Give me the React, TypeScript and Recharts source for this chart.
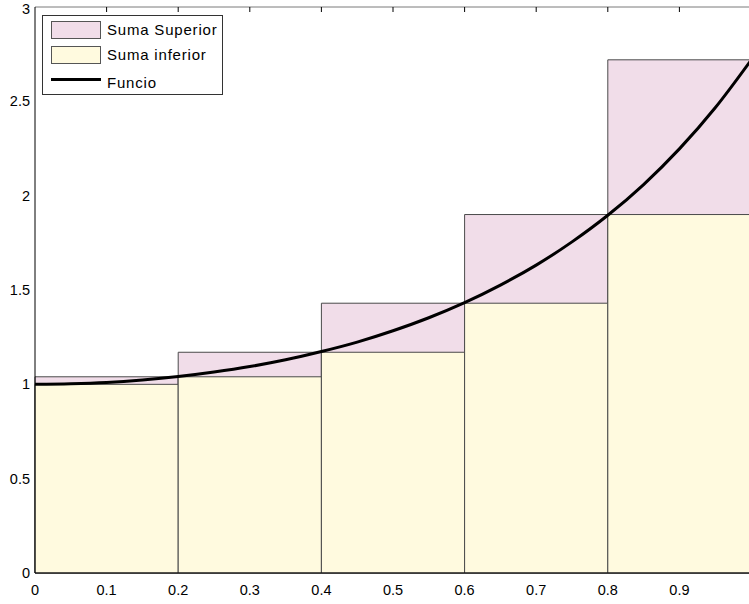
import {
  ComposedChart,
  Line,
  XAxis,
  YAxis,
  ReferenceArea,
} from "recharts";

// partition edges and the two Riemann sums
const edges = [0, 0.2, 0.4, 0.6, 0.8, 1.0];
const upperSum = [1.04, 1.17, 1.43, 1.9, 2.72];
const lowerSum = [1.0, 1.04, 1.17, 1.43, 1.9];

// sampled points of the function curve
const curveX = [0, 0.05, 0.1, 0.15, 0.2, 0.25, 0.3, 0.35, 0.4, 0.45, 0.5, 0.55, 0.6, 0.65, 0.7, 0.75, 0.8, 0.85, 0.9, 0.95, 1.0];
const curveY = [1.0, 1.003, 1.01, 1.023, 1.041, 1.065, 1.094, 1.13, 1.174, 1.224, 1.284, 1.353, 1.433, 1.526, 1.632, 1.755, 1.896, 2.059, 2.248, 2.466, 2.718];

const xTicks = [0, 0.1, 0.2, 0.3, 0.4, 0.5, 0.6, 0.7, 0.8, 0.9];
const topTicks = [0.1, 0.2, 0.3, 0.4, 0.5, 0.6, 0.7, 0.8, 0.9];
const yTicks = [0, 0.5, 1, 1.5, 2, 2.5, 3];
const yInnerTicks = [1.5, 2, 2.5];

const PINK = "#f1dde9";
const YELLOW = "#fffadf";
const EDGE = "#4a4a4a";
const FONT = "'Liberation Sans', Arial, sans-serif";

const legendItems = [
  { label: "Suma Superior", kind: "rect", color: PINK },
  { label: "Suma inferior", kind: "rect", color: YELLOW },
  { label: "Funcio", kind: "line", color: "#000000" },
];

const curve = curveX.map((x, i) => ({ x, y: curveY[i] }));

const LegendBox = () => (
  <div
    style={{
      position: "absolute",
      left: 42,
      top: 15,
      width: 179,
      height: 78,
      border: "1px solid #333",
      background: "#fff",
      fontFamily: FONT,
      fontSize: 15,
      color: "#000",
    }}
  >
    {legendItems.map((it, i) => {
      const top = i < 2 ? 5 + i * 25 : 62;
      const textMid = i < 2 ? top + 9 : 67;
      return (
        <div key={it.label}>
          {it.kind === "rect" ? (
            <div
              style={{
                position: "absolute",
                left: 8,
                top,
                width: 50,
                height: 18,
                background: it.color,
                border: "1px solid #555",
                boxSizing: "border-box",
              }}
            />
          ) : (
            <div style={{ position: "absolute", left: 8, top, width: 50, height: 3, background: it.color }} />
          )}
          <span
            style={{
              position: "absolute",
              left: 64,
              top: textMid - 9,
              lineHeight: "18px",
              letterSpacing: 0.8,
              whiteSpace: "nowrap",
            }}
          >
            {it.label}
          </span>
        </div>
      );
    })}
  </div>
);

const blank = () => "";

export default function App() {
  return (
    <div style={{ position: "absolute", left: 0, top: 0, width: 749, height: 604, overflow: "hidden", background: "#fff" }}>
      <ComposedChart width={760} height={604} data={curve} margin={{ top: 7, right: 9, left: 0, bottom: 0 }}>
        <XAxis
          xAxisId="bottom"
          dataKey="x"
          type="number"
          domain={[0, 1]}
          ticks={xTicks}
          tickFormatter={(v) => (v === 0 ? "0" : String(v))}
          height={31}
          tickLine={false}
          tickSize={0}
          tickMargin={12}
          axisLine={{ stroke: "#000" }}
          tick={{ fill: "#000", fontSize: 14.5, fontFamily: FONT }}
        />
        <XAxis
          xAxisId="top"
          dataKey="x"
          type="number"
          orientation="top"
          mirror
          domain={[0, 1]}
          ticks={topTicks}
          tickFormatter={blank}
          tickSize={5}
          height={1}
          axisLine={{ stroke: "#7a7a7a" }}
          tickLine={{ stroke: "#000" }}
        />
        <YAxis
          yAxisId="left"
          type="number"
          domain={[0, 3]}
          ticks={yTicks}
          width={35}
          tickLine={false}
          tickSize={0}
          tickMargin={5}
          axisLine={{ stroke: "#000" }}
          tick={{ fill: "#000", fontSize: 14.5, fontFamily: FONT }}
        />
        <YAxis
          yAxisId="inner"
          type="number"
          mirror
          domain={[0, 3]}
          ticks={yInnerTicks}
          tickFormatter={blank}
          tickSize={5}
          width={1}
          axisLine={false}
          tickLine={{ stroke: "#000" }}
        />
        {upperSum.map((v, i) => (
          <ReferenceArea
            key={"u" + i}
            xAxisId="bottom"
            yAxisId="left"
            x1={edges[i]}
            x2={edges[i + 1]}
            y1={0}
            y2={v}
            fill={PINK}
            fillOpacity={1}
            stroke={EDGE}
            strokeWidth={1}
          />
        ))}
        {lowerSum.map((v, i) => (
          <ReferenceArea
            key={"l" + i}
            xAxisId="bottom"
            yAxisId="left"
            x1={edges[i]}
            x2={edges[i + 1]}
            y1={0}
            y2={v}
            fill={YELLOW}
            fillOpacity={1}
            stroke={EDGE}
            strokeWidth={1}
          />
        ))}
        <Line
          xAxisId="bottom"
          yAxisId="left"
          dataKey="y"
          type="monotone"
          stroke="#000"
          strokeWidth={3}
          dot={false}
          isAnimationActive={false}
        />
      </ComposedChart>
      <LegendBox />
    </div>
  );
}
